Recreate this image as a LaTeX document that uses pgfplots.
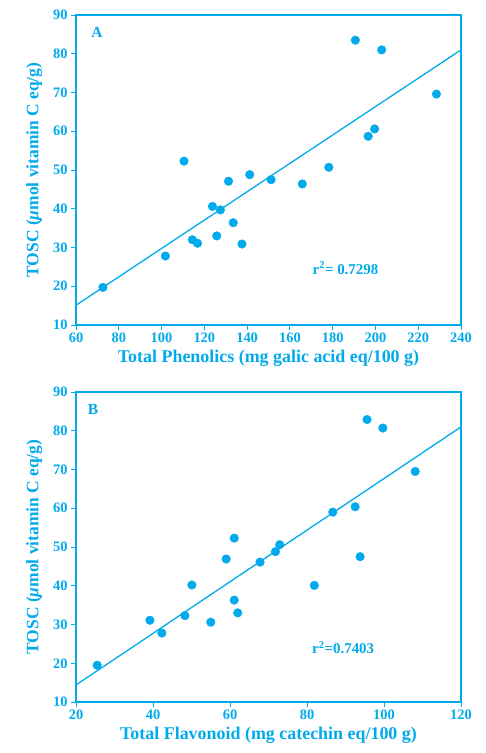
\documentclass[border=0pt]{standalone}
\usepackage{pgfplots}
\pgfplotsset{compat=1.18}
\usepackage{fontspec}
\setmainfont{Liberation Serif}
\definecolor{cy}{RGB}{0,170,235}
\pgfplotsset{
  panel/.style={
    scale only axis, width=385bp, height=310bp,
    axis line style={cy, line width=1.4bp},
    tick style={cy, line width=1bp},
    tick align=outside, major tick length=5bp,
    xtick pos=bottom, ytick pos=left,
    ymin=10, ymax=90, ytick={10,20,...,90},
    /pgf/number format/assume math mode=true,
    ticklabel style={font=\bfseries\fontsize{14.5}{15}\selectfont, text=cy},
    xticklabel style={yshift=1bp},
    ylabel={TOSC ({\itshape μ}mol vitamin C eq/g)},
    xlabel style={font=\bfseries\fontsize{18}{19}\selectfont, text=cy, yshift=-1bp},
    ylabel style={font=\bfseries\fontsize{17.5}{19}\selectfont, text=cy, yshift=4bp},
    clip=false,
  },
  dots/.style={only marks, mark=*, mark size=4.3bp, mark options={draw=cy, fill=cy}},
  fitline/.style={no marks, draw=cy, line width=1.3bp},
}
\begin{document}
\begin{tikzpicture}[x=1bp,y=1bp]
\path[use as bounding box] (0,0) rectangle (486,-753);
\begin{axis}[panel, at={(76bp,-325bp)}, anchor=south west,
  xmin=60, xmax=240, xtick={60,80,...,240},
  xlabel={Total Phenolics (mg galic acid eq/100 g)}]
\addplot[dots] coordinates {
(72.6,19.7) (101.8,27.8) (114.4,32.0) (116.8,31.1) (110.5,52.3)
(123.8,40.6) (127.5,39.7) (125.8,33.0) (131.3,47.1) (133.5,36.4)
(137.6,30.9) (141.2,48.8) (151.2,47.5) (165.8,46.4) (178.2,50.7)
(190.6,83.5) (196.6,58.7) (199.6,60.6) (202.9,81.0) (228.5,69.6)
};
\addplot[fitline] coordinates {(60,15.1) (240,81.0)};
\node[text=cy, font=\bfseries\fontsize{15.5}{16}\selectfont] at (axis cs:69.8,85.5) {A};
\node[text=cy, font=\bfseries\fontsize{15}{16}\selectfont] at (axis cs:186,24.7) {r\textsuperscript{2}= 0.7298};
\end{axis}
\begin{axis}[panel, at={(76bp,-702bp)}, anchor=south west,
  xmin=20, xmax=120, xtick={20,40,...,120},
  xlabel={Total Flavonoid (mg catechin eq/100 g)}]
\addplot[dots] coordinates {
(25.5,19.5) (39.2,31.1) (42.3,27.8) (48.3,32.3) (50.1,40.2)
(55.0,30.6) (59.0,46.9) (61.1,52.3) (61.1,36.3) (62.0,33.0)
(67.8,46.1) (71.8,48.8) (72.9,50.6) (81.9,40.1) (86.7,59.0)
(92.5,60.4) (93.8,47.5) (95.6,82.9) (99.7,80.7) (108.1,69.5)
};
\addplot[fitline] coordinates {(20,14.4) (120,81.0)};
\node[text=cy, font=\bfseries\fontsize{15.5}{16}\selectfont] at (axis cs:24.4,85.6) {B};
\node[text=cy, font=\bfseries\fontsize{15}{16}\selectfont] at (axis cs:89.4,24.0) {r\textsuperscript{2}=0.7403};
\end{axis}
\end{tikzpicture}
\end{document}
